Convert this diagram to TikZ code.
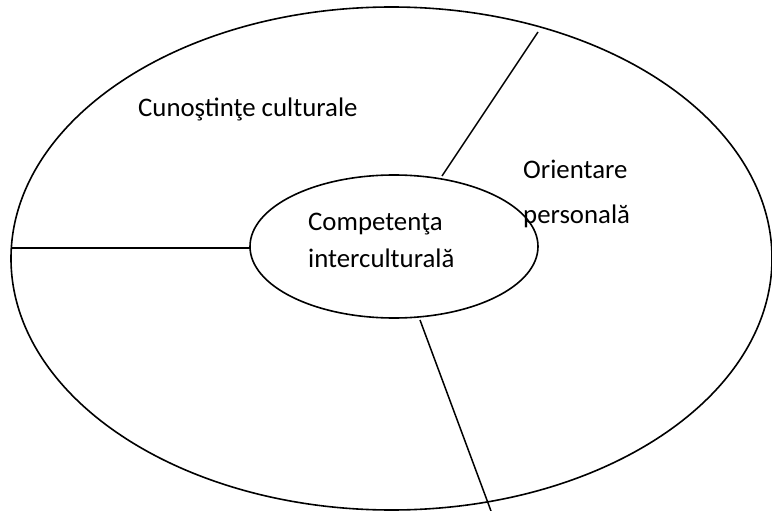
\documentclass[tikz,border=0pt]{standalone}
\usepackage{fontspec}
\setmainfont{Carlito}
\usetikzlibrary{shapes.geometric}
\begin{document}
\begin{tikzpicture}[x=1pt,y=-1pt,
  ring/.style={draw,ellipse,line width=1.6pt,inner sep=0pt},
  divider/.style={draw,line width=1.5pt},
  label/.style={inner sep=0pt,anchor=base west,align=left}]
\useasboundingbox (0,0) rectangle (772,511);
\node[ring, minimum width=761pt, minimum height=503pt] (outer) at (391.5,258.5) {};
\node[ring, minimum width=288pt, minimum height=143pt] (inner) at (394,246.5) {};
\coordinate (t1) at (442,176);
\coordinate (t2) at (538,32);
\coordinate (l1) at (11,248);
\coordinate (l2) at (250,248);
\coordinate (b1) at (420,320);
\coordinate (b2) at (491,511);
\draw[divider] (t1) -- (t2);
\draw[divider] (l1) -- (l2);
\draw[divider] (b1) -- (b2);
\node[label, font=\fontsize{26.8}{32}\selectfont] (cult) at (138,117) {Cunoştinţe culturale};
\node[label, font=\fontsize{26.8}{44.5}\selectfont] (orient) at (523,223) {Orientare\\personală};
\node[label, font=\fontsize{26.8}{37}\selectfont] (comp) at (308,267) {Competenţa\\interculturală};
\end{tikzpicture}
\end{document}
